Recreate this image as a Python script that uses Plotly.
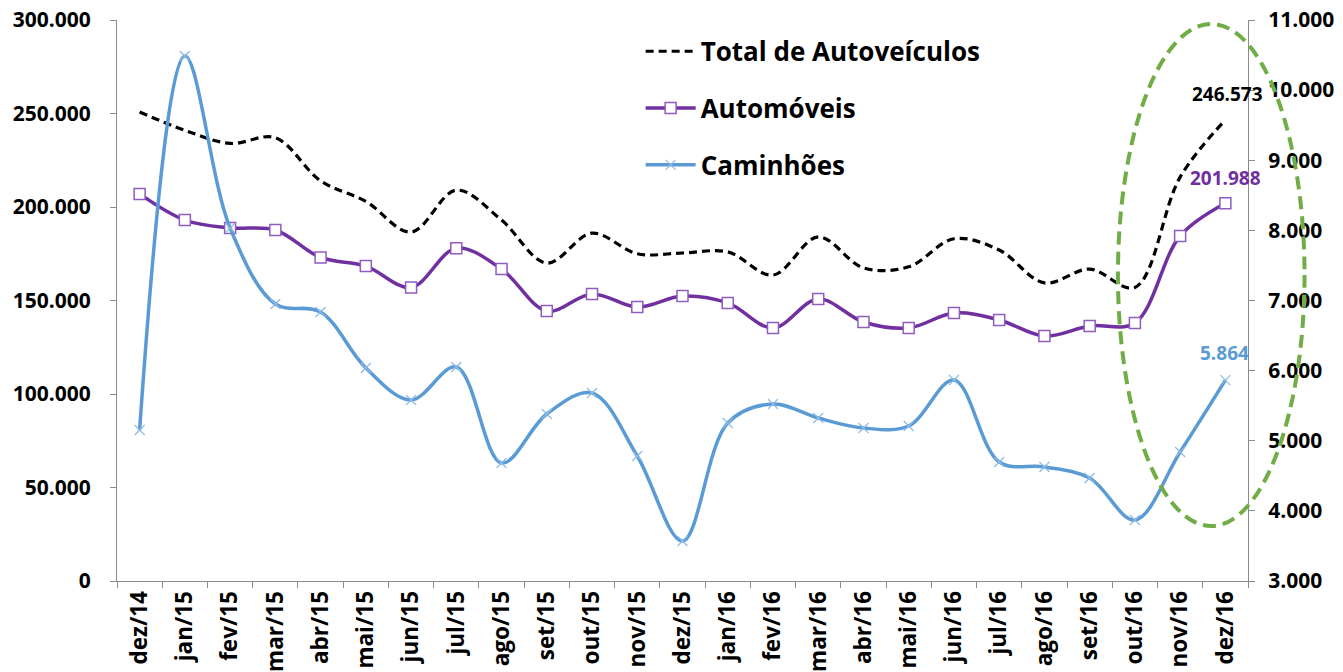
import plotly.graph_objects as go

months = ["dez/14", "jan/15", "fev/15", "mar/15", "abr/15", "mai/15", "jun/15", "jul/15",
          "ago/15", "set/15", "out/15", "nov/15", "dez/15", "jan/16", "fev/16", "mar/16",
          "abr/16", "mai/16", "jun/16", "jul/16", "ago/16", "set/16", "out/16", "nov/16", "dez/16"]

total_autoveiculos = [250800, 241000, 234000, 237000, 214000, 203000, 186600, 209000,
                      193000, 170000, 186000, 175000, 175400, 176000, 163600, 184000,
                      167400, 168000, 183000, 177000, 159400, 166800, 157000, 216000, 246573]

automoveis = [207000, 193000, 188800, 187700, 173000, 168400, 157000, 178000,
              166800, 144400, 153500, 146500, 152400, 148700, 135300, 150800,
              138500, 135300, 143300, 139600, 131000, 136400, 138000, 184500, 201988]

caminhoes = [5153, 10487, 8034, 6950, 6836, 6037, 5581, 6052,
             4683, 5381, 5681, 4783, 3570, 5253, 5524, 5324,
             5182, 5210, 5866, 4697, 4626, 4469, 3870, 4840, 5864]

BLACK = "#000000"
PURPLE = "#7030A0"
BLUE = "#5B9BD5"
GREEN = "#70AD47"
FONT = "Open Sans"

fig = go.Figure()

fig.add_trace(go.Scatter(
    x=months, y=total_autoveiculos, name="Total de Autoveículos", mode="lines",
    line=dict(color=BLACK, width=3.2, dash="8px,5px", shape="spline", smoothing=1.0),
    legendgroup="a", yaxis="y"))

fig.add_trace(go.Scatter(
    x=months, y=automoveis, name="Automóveis", mode="lines+markers",
    line=dict(color=PURPLE, width=3.5, shape="spline", smoothing=1.0),
    marker=dict(symbol="square", size=11, color="white",
                line=dict(color="#8F5CC0", width=1.5)),
    legendgroup="b", yaxis="y"))

fig.add_trace(go.Scatter(
    x=months, y=caminhoes, name="Caminhões", mode="lines+markers",
    line=dict(color=BLUE, width=3.5, shape="spline", smoothing=1.0),
    marker=dict(symbol="x-thin", size=10, color="#8DBBE5",
                line=dict(color="#8DBBE5", width=1.2)),
    legendgroup="c", yaxis="y2"))

def fmt(v):
    return f"{v:,}".replace(",", ".")

last = months[-1]
fig.add_annotation(x=last, y=total_autoveiculos[-1], yref="y", xref="x",
                   text=fmt(total_autoveiculos[-1]), showarrow=False, yshift=26, xshift=2,
                   font=dict(family=FONT, size=19, color=BLACK, weight="bold"))
fig.add_annotation(x=last, y=automoveis[-1], yref="y", xref="x",
                   text=fmt(automoveis[-1]), showarrow=False, yshift=25, xshift=0,
                   font=dict(family=FONT, size=19, color=PURPLE, weight="bold"))
fig.add_annotation(x=last, y=caminhoes[-1], yref="y2", xref="x",
                   text=fmt(caminhoes[-1]), showarrow=False, yshift=27, xshift=-1,
                   font=dict(family=FONT, size=19, color=BLUE, weight="bold"))

# highlight ellipse
fig.add_shape(type="circle", xref="paper", yref="paper",
              x0=0.885, x1=1.050, y0=0.098, y1=0.993,
              line=dict(color=GREEN, width=4, dash="13px,7px"), layer="above")

ytick_font = dict(family=FONT, size=21, color=BLACK, weight="bold")
xtick_font = dict(family=FONT, size=22.5, color=BLACK, weight="bold")

# the page body adds an 8px offset, so the figure is 8px smaller and margins shifted
fig.update_layout(
    width=1335, height=664,
    margin=dict(l=109, r=95, t=12, b=91, autoexpand=False),
    paper_bgcolor="white", plot_bgcolor="white",
    separators=",.",
    showlegend=True,
    legend=dict(x=0.463, y=0.986, xanchor="left", yanchor="top",
                font=dict(family=FONT, size=26, color=BLACK, weight="bold"),
                bgcolor="rgba(0,0,0,0)", tracegroupgap=20, itemwidth=50,
                traceorder="grouped"),
    xaxis=dict(type="category", range=[-0.5, 24.5], tickangle=-90, automargin=False,
               tickfont=xtick_font, showline=True, linecolor="#8C8C8C", linewidth=1,
               ticks="outside", ticklen=6, tickcolor="#8C8C8C", tickson="boundaries",
               showgrid=False, zeroline=False, ticklabeloverflow="allow"),
    yaxis=dict(range=[0, 300000], dtick=50000, tickformat=",d", tickfont=ytick_font,
               automargin=False, ticklabeloverflow="allow",
               showline=True, linecolor="#8C8C8C", linewidth=1, ticks="outside",
               ticklen=6, tickcolor="#8C8C8C", showgrid=False, zeroline=False,
               ticklabelstandoff=15),
    yaxis2=dict(range=[3000, 11000], dtick=1000, tickformat=",d", tickfont=ytick_font,
                automargin=False, ticklabeloverflow="allow",
                overlaying="y", side="right", showline=True, linecolor="#8C8C8C",
                linewidth=1, ticks="outside", ticklen=6, tickcolor="#8C8C8C",
                showgrid=False, zeroline=False, ticklabelstandoff=9),
)

fig.write_html("out.html")
